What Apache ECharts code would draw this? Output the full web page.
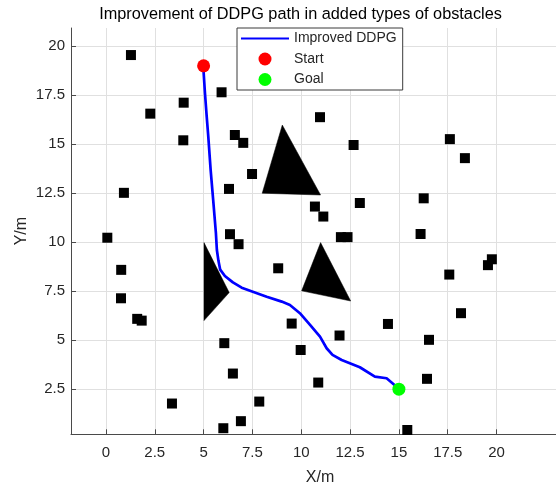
<!DOCTYPE html>
<html>
<head>
<meta charset="utf-8">
<script src="https://cdn.jsdelivr.net/npm/echarts@6/dist/echarts.min.js"></script>
<style>
html,body{margin:0;padding:0;background:#fff;overflow:hidden;}
#main{width:556px;height:486px;}
</style>
</head>
<body>
<div id="main"></div>
<script>
// ---- data ----
var titleText = 'Improvement of DDPG path in added types of obstacles';
var xTicks = [0, 2.5, 5, 7.5, 10, 12.5, 15, 17.5, 20];
var yTicks = [2.5, 5, 7.5, 10, 12.5, 15, 17.5, 20];
var pathPoints = [
  [4.98,19.0],[5.07,17.6],[5.16,16.4],[5.24,15.39],[5.36,13.69],[5.49,12.16],
  [5.63,10.46],[5.68,9.6],[5.76,9.05],[5.85,8.6],[6.09,8.28],[6.5,7.95],
  [6.95,7.68],[8.23,7.22],[9.0,6.97],[9.42,6.8],[9.93,6.38],[10.45,5.78],
  [10.96,5.18],[11.3,4.59],[11.6,4.25],[12.07,3.99],[13.0,3.62],[13.77,3.14],
  [14.37,3.06],[14.88,2.63],[15.0,2.5]
];
var startPoint = [[5, 19]];
var goalPoint = [[15, 2.5]];
var squareObstacles = [
  [1.28,19.55],[5.92,17.65],[3.98,17.12],[2.27,16.56],[3.96,15.2],[6.6,15.47],
  [7.03,15.07],[7.48,13.48],[6.3,12.72],[0.92,12.52],[11.95,18.03],[10.96,16.38],
  [12.68,14.96],[17.61,15.26],[18.38,14.29],[13.0,12.0],[16.27,12.24],[10.7,11.82],
  [11.13,11.31],[12.03,10.26],[12.37,10.26],[16.11,10.42],[0.07,10.23],[6.35,10.41],
  [6.79,9.9],[0.78,8.59],[8.82,8.67],[0.77,7.14],[1.6,6.09],[1.83,6.0],
  [9.51,5.85],[6.06,4.85],[6.5,3.3],[3.38,1.77],[7.85,1.87],[6.91,0.87],
  [6.01,0.51],[19.76,9.13],[19.56,8.83],[17.58,8.35],[18.18,6.38],[14.44,5.83],
  [11.96,5.24],[16.54,5.02],[9.97,4.5],[16.44,3.03],[10.87,2.84],[15.43,0.42]
];
// each triangle: x1,y1,x2,y2,x3,y3
var triangleObstacles = [
  [9.03,15.98, 8.0,12.5, 10.99,12.41],
  [5.02,9.98, 6.31,7.43, 5.02,6.0],
  [10.99,9.98, 10.02,7.52, 12.53,7.0]
];

var FONT = 'Arial, "Liberation Sans", Helvetica, sans-serif';
var axisColor = '#4a4a4a';
var gridColor = '#e0e0e0';

var chart = echarts.init(document.getElementById('main'), null, {renderer: 'canvas', width: 556, height: 486});
chart.setOption({
  backgroundColor: '#ffffff',
  animation: false,
  textStyle: {fontFamily: FONT},
  graphic: [{
    type: 'text', x: 300.5, y: 15, z: 100,
    style: {text: titleText, align: 'center', verticalAlign: 'middle',
      font: '16.3px ' + FONT, fill: '#000000'}
  }],
  legend: {
    orient: 'vertical',
    left: 237, top: 28,
    padding: [3.5, 6, 3.5, 3],
    itemWidth: 48, itemHeight: 13, itemGap: 6.5,
    backgroundColor: '#ffffff',
    borderColor: '#3a3a3a', borderWidth: 1, borderRadius: 0,
    textStyle: {fontSize: 14, color: '#262626', fontFamily: FONT},
    data: [
      {name: 'Improved DDPG', itemStyle: {color: 'rgba(0,0,0,0)', borderWidth: 0, opacity: 0}},
      'Start', 'Goal'
    ],
    z: 50
  },
  grid: {left: 71, top: 28, width: 498, height: 406.3, containLabel: false, outerBoundsMode: 'none'},
  xAxis: {
    type: 'value', min: -1.79, max: 23.71,
    name: 'X/m', nameLocation: 'middle', nameGap: 35.5, nameMoveOverlap: false,
    nameTextStyle: {fontSize: 16, color: '#262626', fontFamily: FONT},
    axisLine: {show: true, onZero: false, lineStyle: {color: axisColor, width: 1}},
    axisTick: {show: true, inside: true, length: 5, customValues: xTicks, lineStyle: {color: axisColor}},
    axisLabel: {customValues: xTicks, margin: 11.5, fontSize: 15, color: '#262626', fontFamily: FONT},
    splitLine: {show: true, lineStyle: {color: gridColor, width: 1}}
  },
  yAxis: {
    type: 'value', min: 0.2, max: 20.93,
    name: 'Y/m', nameLocation: 'middle', nameGap: 41.5, nameRotate: 90, nameMoveOverlap: false,
    nameTextStyle: {fontSize: 16, color: '#262626', fontFamily: FONT},
    axisLine: {show: true, onZero: false, lineStyle: {color: axisColor, width: 1}},
    axisTick: {show: true, inside: true, length: 5, customValues: yTicks, lineStyle: {color: axisColor}},
    axisLabel: {customValues: yTicks, margin: 6, fontSize: 15, color: '#262626', fontFamily: FONT},
    splitLine: {show: true, lineStyle: {color: gridColor, width: 1}}
  },
  series: [
    {
      name: 'squares', type: 'scatter', data: squareObstacles,
      symbol: 'rect', symbolSize: 10, itemStyle: {color: '#000000', opacity: 1}, z: 2, clip: false,
      silent: true
    },
    {
      name: 'triangles', type: 'custom', data: triangleObstacles, z: 2, clip: false,
      encode: {x: [0, 2, 4], y: [1, 3, 5]},
      renderItem: function (params, api) {
        var pts = [];
        for (var i = 0; i < 3; i++) {
          pts.push(api.coord([api.value(2 * i), api.value(2 * i + 1)]));
        }
        return {type: 'polygon', shape: {points: pts}, style: {fill: '#000000', stroke: '#000000', lineWidth: 0.5}};
      }
    },
    {
      name: 'Improved DDPG', type: 'line', data: pathPoints,
      symbol: 'none', smooth: false, z: 3,
      lineStyle: {color: '#0000ff', width: 2.7},
      itemStyle: {color: '#0000ff'}
    },
    {
      name: 'Start', type: 'scatter', data: startPoint,
      symbol: 'circle', symbolSize: 13, z: 4,
      itemStyle: {color: '#ff0000', opacity: 1}
    },
    {
      name: 'Goal', type: 'scatter', data: goalPoint,
      symbol: 'circle', symbolSize: 13, z: 4,
      itemStyle: {color: '#00ff00', opacity: 1}
    }
  ]
});
</script>
</body>
</html>
